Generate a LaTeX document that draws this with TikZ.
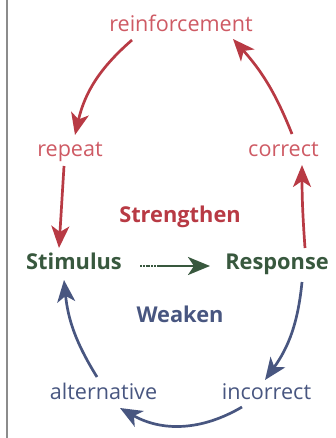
\documentclass[tikz,border=0pt]{standalone}
\usepackage{fontspec}
\setmainfont{Open Sans}
\usetikzlibrary{arrows.meta}
\definecolor{rosered}{RGB}{206,90,100}
\definecolor{deepred}{RGB}{184,58,68}
\definecolor{leafgreen}{RGB}{56,88,62}
\definecolor{slateblue}{RGB}{72,86,128}

\begin{document}
\begin{tikzpicture}[x=1pt,y=1pt,
 lbl/.style={anchor=base,inner sep=1pt,font=\fontsize{21.6}{26}\selectfont},
 key/.style={anchor=base,inner sep=1pt,font=\fontsize{21.8}{26}\selectfont\bfseries},
 arr/.style={-{Stealth[length=22pt,width=18pt,inset=6pt]},line width=2.7pt}]
\useasboundingbox (0,0) rectangle (335,-438);
\draw[black!45,line width=2pt] (7,0) -- (7,-438);
% cycle labels
\node[lbl,text=rosered] (reinf) at (181,-32) {reinforcement};
\node[lbl,text=rosered] (repeat) at (70,-157) {repeat};
\node[lbl,text=rosered] (correct) at (283.5,-157) {correct};
\node[key,text=deepred] (strength) at (180,-222) {Strengthen};
\node[key,text=leafgreen] (stim) at (74,-269) {Stimulus};
\node[key,text=leafgreen] (resp) at (277,-269) {Response};
\node[key,text=slateblue] (weaken) at (180,-322) {Weaken};
\node[lbl,text=slateblue] (alt) at (103.5,-399) {alternative};
\node[lbl,text=slateblue] (incorr) at (266.5,-399) {incorrect};
% strengthen loop
\draw[arr,deepred] ([xshift=-49pt,yshift=-8pt]reinf.base) to[bend right=18] ([xshift=5pt,yshift=22pt]repeat.base);
\draw[arr,deepred] ([xshift=8.5pt,yshift=23pt]correct.base) to[bend right=10] ([xshift=52pt,yshift=-7pt]reinf.base);
\draw[arr,deepred] ([xshift=-6pt,yshift=-9pt]repeat.base) -- ([xshift=-15pt,yshift=21pt]stim.base);
\draw[arr,deepred] ([xshift=28pt,yshift=21pt]resp.base) to[bend left=2] ([xshift=18.5pt,yshift=-8pt]correct.base);
% link
\draw[arr,leafgreen,dash pattern=on 2pt off 0.8pt on 2pt off 0.8pt on 2pt off 0.8pt on 2pt off 0.8pt on 2pt off 0.8pt on 2pt off 0.8pt on 80pt off 0pt] ([xshift=66pt,yshift=3pt]stim.base) -- ([xshift=-67pt,yshift=3pt]resp.base);
% weaken loop
\draw[arr,slateblue] ([xshift=25pt,yshift=-13pt]resp.base) to[bend left=15] ([xshift=-1.5pt,yshift=19pt]incorr.base);
\draw[arr,slateblue] ([xshift=-24.5pt,yshift=-8pt]incorr.base) to[bend left=30] ([xshift=16.5pt,yshift=-9pt]alt.base);
\draw[arr,slateblue] ([xshift=-6.5pt,yshift=22pt]alt.base) to[bend left=13] ([xshift=-10pt,yshift=-11pt]stim.base);
\end{tikzpicture}
\end{document}
